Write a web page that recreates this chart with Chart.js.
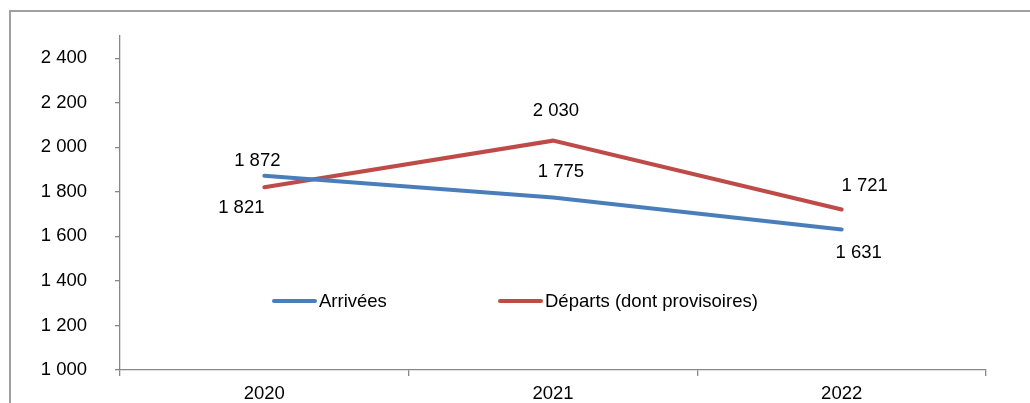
<!DOCTYPE html>
<html>
<head>
<meta charset="utf-8">
<script src="https://cdn.jsdelivr.net/npm/chart.js@4"></script>
<style>
  html, body { margin: 0; padding: 0; background: #fff; overflow: hidden; }
  body { width: 1030px; height: 403px; position: relative; }
  .frame { position: absolute; left: 9px; top: 10px; width: 1060px; height: 440px;
           border: 2px solid #a0a0a0; box-sizing: border-box; }
  .wrap { position: absolute; left: 0; top: 0; width: 1030px; height: 403px; }
</style>
</head>
<body>
<div class="frame"></div>
<div class="wrap"><canvas id="chart"></canvas></div>
<script>
const years     = ['2020', '2021', '2022'];
const arrivees  = [1872, 1775, 1631];
const departs   = [1821, 2030, 1721];
const seriesNames = ['Arrivées', 'Départs (dont provisoires)'];

// label offsets from each point, px (placed by hand like in the original)
const labelShift = [
  [[-7, -15], [8, -26], [17, 23]],
  [[-23, 21], [3, -30], [23, -24]]
];

const FONT = '"Liberation Sans", Arial, sans-serif';
const fmt = v => String(v).replace(/\B(?=(\d{3})+(?!\d))/g, ' ');

const valueLabels = {
  id: 'valueLabels',
  afterDatasetsDraw(chart) {
    const ctx = chart.ctx;
    ctx.save();
    ctx.font = '18.5px ' + FONT;
    ctx.fillStyle = '#000';
    ctx.textAlign = 'center';
    ctx.textBaseline = 'middle';
    chart.data.datasets.forEach((ds, i) => {
      chart.getDatasetMeta(i).data.forEach((pt, j) => {
        const [dx, dy] = labelShift[i][j];
        ctx.fillText(fmt(ds.data[j]), pt.x + dx, pt.y + dy);
      });
    });
    ctx.restore();
  }
};

// legend sits inside the plot area
const innerLegend = {
  id: 'innerLegend',
  afterDraw(chart) {
    const ctx = chart.ctx;
    const spots = [274, 500];
    const y = 301;
    ctx.save();
    ctx.font = '18.5px ' + FONT;
    ctx.textBaseline = 'middle';
    ctx.textAlign = 'left';
    chart.data.datasets.forEach((ds, i) => {
      const x = spots[i];
      ctx.strokeStyle = ds.borderColor;
      ctx.lineWidth = 4;
      ctx.lineCap = 'round';
      ctx.beginPath();
      ctx.moveTo(x, y);
      ctx.lineTo(x + 41, y);
      ctx.stroke();
      ctx.fillStyle = '#000';
      ctx.fillText(ds.label, x + 45, y + 1);
    });
    ctx.restore();
  }
};

new Chart(document.getElementById('chart'), {
  type: 'line',
  data: {
    labels: years,
    datasets: [
      { label: seriesNames[0], data: arrivees, borderColor: '#4a7ebb', backgroundColor: '#4a7ebb',
        borderWidth: 4, pointRadius: 0, tension: 0, borderCapStyle: 'round' },
      { label: seriesNames[1], data: departs, borderColor: '#be4b48', backgroundColor: '#be4b48',
        borderWidth: 4, pointRadius: 0, tension: 0, borderCapStyle: 'round' }
    ]
  },
  options: {
    responsive: true,
    maintainAspectRatio: false,
    animation: false,
    layout: { padding: { top: 36, right: 44, bottom: 0, left: 0 } },
    plugins: { legend: { display: false }, tooltip: { enabled: false } },
    scales: {
      x: {
        offset: true,
        grid: { offset: true, drawOnChartArea: false, tickLength: 6, color: '#888', lineWidth: 1.3 },
        border: { color: '#888', width: 1.3 },
        ticks: { color: '#000', font: { family: FONT, size: 18.5 }, padding: 7, maxRotation: 0 },
        afterFit: s => { s.height = 33; }
      },
      y: {
        min: 1000, max: 2500,
        grid: { drawOnChartArea: false, tickLength: 5, color: '#888', lineWidth: 1.3 },
        border: { color: '#888', width: 1.3 },
        ticks: { stepSize: 200, color: '#000', font: { family: FONT, size: 18.5 }, padding: 28,
                 callback: v => fmt(v) },
        afterBuildTicks: s => { s.ticks = s.ticks.filter(t => t.value <= 2400); },
        afterFit: s => { s.width = 120; s.paddingTop = 0; s.paddingBottom = 0; }
      }
    }
  },
  plugins: [valueLabels, innerLegend]
});
</script>
</body>
</html>
